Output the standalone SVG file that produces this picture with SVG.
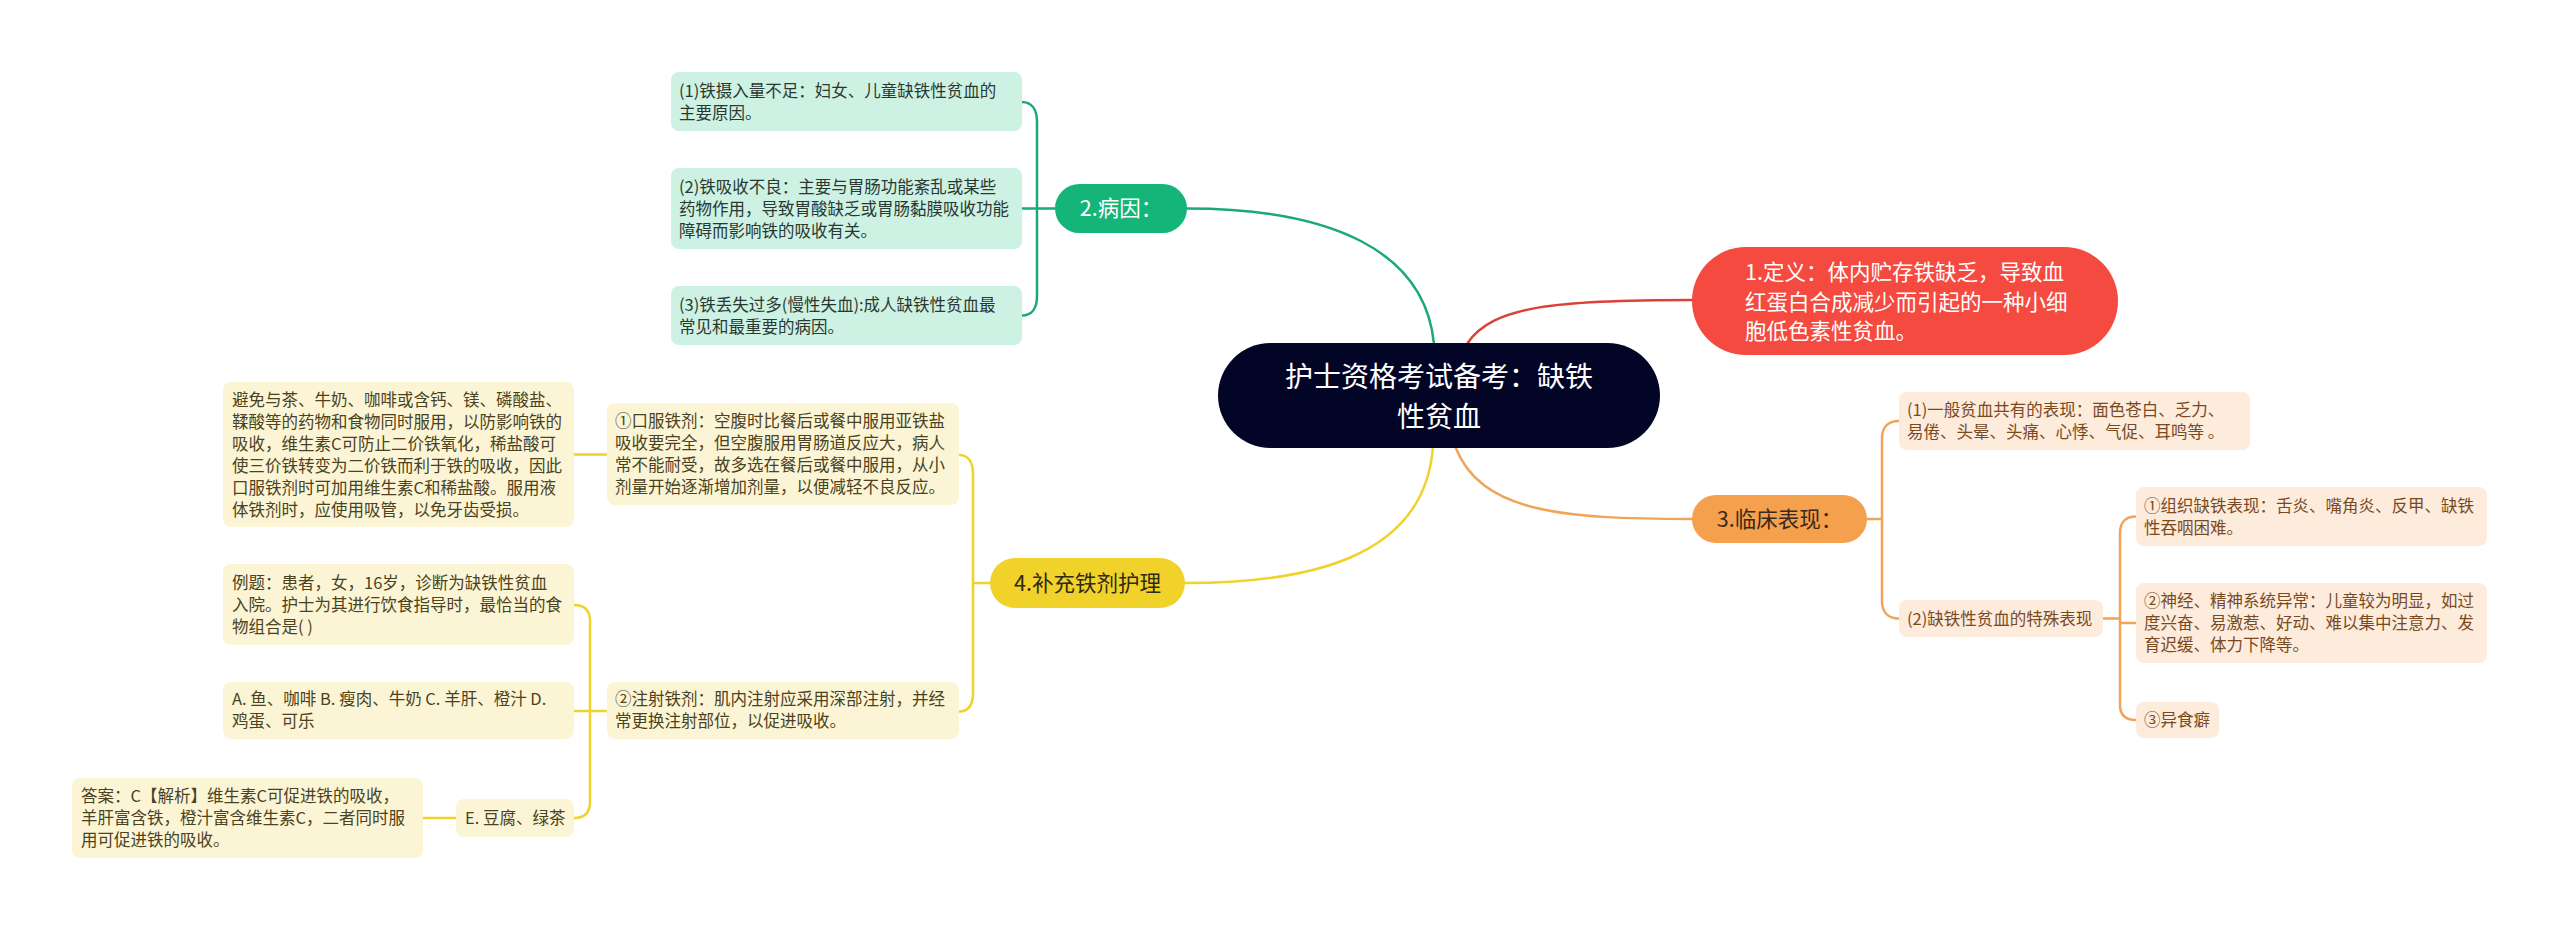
<svg xmlns="http://www.w3.org/2000/svg" width="2560" height="931" viewBox="0 0 2560 931">
<style>
text{font-family:"Noto Sans CJK SC","Noto Sans",sans-serif;}
.t{font-size:16.5px;}
.gt{fill:#2b3832;}
.yt{fill:#4a4220;}
.ot{fill:#7a4a1f;}
.gb{fill:#cdf1e2;}
.yb{fill:#fcf5d5;}
.ob{fill:#fdebdc;}
.gl{stroke:#1aaa73;fill:none;stroke-width:2.5;}
.rl{stroke:#dc4137;fill:none;stroke-width:2.5;}
.ol{stroke:#efa458;fill:none;stroke-width:2.5;}
.yl{stroke:#efd22b;fill:none;stroke-width:2.5;}
.n2{font-size:21.5px;}
</style>
<rect width="2560" height="931" fill="#ffffff"/>
<g id="connectors">
<path class="gl" d="M1187,208.5 C1330,208.5 1425,250 1434,344"/>
<path class="rl" d="M1467,344 C1492,305 1560,300 1693,300"/>
<path class="ol" d="M1455,446 C1480,512 1560,519 1693,519"/>
<path class="yl" d="M1433,446 C1425,562 1300,583 1185,583"/>
<path class="gl" d="M1055,208.5 L1022,208.5 M1037,208.5 L1037,122 C1037,110 1032,102 1022,102 M1037,208.5 L1037,296 C1037,308 1032,315.5 1022,315.5"/>
<path class="ol" d="M1867,519 L1882,519 M1882,519 L1882,438 C1882,427 1888,421 1899,421 M1882,519 L1882,601 C1882,612 1888,618.5 1899,618.5"/>
<path class="ol" d="M2103,618.5 L2120,618.5 M2120,623 L2136,623 M2120,623 L2120,533 C2120,522 2126,516.5 2136,516.5 M2120,618 L2120,705 C2120,715 2126,720 2136,720"/>
<path class="yl" d="M990,583 L973,583 M973,583 L973,474 C973,462 968,455 959,455 M973,583 L973,693 C973,705 968,711.5 959,711.5"/>
<path class="yl" d="M607,454.5 L574,454.5"/>
<path class="yl" d="M607,711 L574,711 M590,711 L590,621 C590,611 585,605 574,605 M590,711 L590,802 C590,812 585,818 574,818"/>
<path class="yl" d="M456,818 L423,818"/>
</g>
<g id="root">
<rect x="1218" y="343" width="442" height="105" rx="52.5" fill="#030526"/>
<text x="1439" y="387" font-size="28" fill="#ffffff" text-anchor="middle">护士资格考试备考：缺铁</text>
<text x="1439" y="427" font-size="28" fill="#ffffff" text-anchor="middle">性贫血</text>
</g>
<g id="n1">
<rect x="1692" y="247" width="426" height="108" rx="54" fill="#f54a40"/>
<text class="n2" fill="#ffffff"><tspan x="1745" y="280">1.定义：体内贮存铁缺乏，导致血</tspan><tspan x="1745" y="309.5">红蛋白合成减少而引起的一种小细</tspan><tspan x="1745" y="339">胞低色素性贫血。</tspan></text>
</g>
<g id="n2">
<rect x="1055" y="184" width="132" height="49" rx="24.5" fill="#15b478"/>
<text class="n2" x="1121" y="216" fill="#ffffff" text-anchor="middle">2.病因：</text>
</g>
<g id="n2a">
<rect class="gb" x="671" y="72" width="351" height="59" rx="8"/>
<text class="t gt"><tspan x="679" y="97">(1)铁摄入量不足：妇女、儿童缺铁性贫血的</tspan><tspan x="679" y="119">主要原因。</tspan></text>
</g>
<g id="n2b">
<rect class="gb" x="671" y="168" width="351" height="81" rx="8"/>
<text class="t gt"><tspan x="679" y="193">(2)铁吸收不良：主要与胃肠功能紊乱或某些</tspan><tspan x="679" y="215">药物作用，导致胃酸缺乏或胃肠黏膜吸收功能</tspan><tspan x="679" y="237">障碍而影响铁的吸收有关。</tspan></text>
</g>
<g id="n2c">
<rect class="gb" x="671" y="286" width="351" height="59" rx="8"/>
<text class="t gt"><tspan x="679" y="310.5">(3)铁丢失过多(慢性失血):成人缺铁性贫血最</tspan><tspan x="679" y="332.5">常见和最重要的病因。</tspan></text>
</g>
<g id="n3">
<rect x="1692" y="495" width="175" height="48" rx="24" fill="#f5a04c"/>
<text class="n2" x="1779.5" y="527" fill="#3a2a1c" text-anchor="middle">3.临床表现：</text>
</g>
<g id="n3a">
<rect class="ob" x="1899" y="392" width="351" height="58" rx="8"/>
<text class="t ot"><tspan x="1907" y="416">(1)一般贫血共有的表现：面色苍白、乏力、</tspan><tspan x="1907" y="438">易倦、头晕、头痛、心悸、气促、耳鸣等 。</tspan></text>
</g>
<g id="n3b">
<rect class="ob" x="1899" y="600" width="204" height="37" rx="8"/>
<text class="t ot" x="1907" y="624.5">(2)缺铁性贫血的特殊表现</text>
</g>
<g id="n3b1">
<rect class="ob" x="2136" y="487" width="351" height="59" rx="8"/>
<text class="t ot"><tspan x="2144" y="511.5">①组织缺铁表现：舌炎、嘴角炎、反甲、缺铁</tspan><tspan x="2144" y="533.5">性吞咽困难。</tspan></text>
</g>
<g id="n3b2">
<rect class="ob" x="2136" y="583" width="351" height="80" rx="8"/>
<text class="t ot"><tspan x="2144" y="607">②神经、精神系统异常：儿童较为明显，如过</tspan><tspan x="2144" y="629">度兴奋、易激惹、好动、难以集中注意力、发</tspan><tspan x="2144" y="651">育迟缓、体力下降等。</tspan></text>
</g>
<g id="n3b3">
<rect class="ob" x="2136" y="702" width="83" height="36" rx="8"/>
<text class="t ot" x="2144" y="726">③异食癖</text>
</g>
<g id="n4">
<rect x="990" y="558" width="195" height="50" rx="25" fill="#f1d22a"/>
<text class="n2" x="1087.5" y="591" fill="#2e2a14" text-anchor="middle">4.补充铁剂护理</text>
</g>
<g id="n4a">
<rect class="yb" x="607" y="403" width="352" height="102" rx="8"/>
<text class="t yt"><tspan x="615" y="427">①口服铁剂：空腹时比餐后或餐中服用亚铁盐</tspan><tspan x="615" y="449">吸收要完全，但空腹服用胃肠道反应大，病人</tspan><tspan x="615" y="471">常不能耐受，故多选在餐后或餐中服用，从小</tspan><tspan x="615" y="493">剂量开始逐渐增加剂量，以便减轻不良反应。</tspan></text>
</g>
<g id="n4a1">
<rect class="yb" x="223" y="382" width="351" height="145" rx="8"/>
<text class="t yt"><tspan x="232" y="405.5">避免与茶、牛奶、咖啡或含钙、镁、磷酸盐、</tspan><tspan x="232" y="427.5">鞣酸等的药物和食物同时服用，以防影响铁的</tspan><tspan x="232" y="449.5">吸收，维生素C可防止二价铁氧化，稀盐酸可</tspan><tspan x="232" y="471.5">使三价铁转变为二价铁而利于铁的吸收，因此</tspan><tspan x="232" y="493.5">口服铁剂时可加用维生素C和稀盐酸。服用液</tspan><tspan x="232" y="515.5">体铁剂时，应使用吸管，以免牙齿受损。</tspan></text>
</g>
<g id="n4b">
<rect class="yb" x="607" y="682" width="352" height="57" rx="8"/>
<text class="t yt"><tspan x="615" y="705">②注射铁剂：肌内注射应采用深部注射，并经</tspan><tspan x="615" y="727">常更换注射部位，以促进吸收。</tspan></text>
</g>
<g id="n4b1">
<rect class="yb" x="223" y="564" width="351" height="81" rx="8"/>
<text class="t yt"><tspan x="232" y="588.5">例题：患者，女，16岁，诊断为缺铁性贫血</tspan><tspan x="232" y="610.5">入院。护士为其进行饮食指导时，最恰当的食</tspan><tspan x="232" y="632.5">物组合是( )</tspan></text>
</g>
<g id="n4b2">
<rect class="yb" x="223" y="682" width="351" height="57" rx="8"/>
<text class="t yt"><tspan x="232" y="705">A. 鱼、咖啡 B. 瘦肉、牛奶 C. 羊肝、橙汁 D.</tspan><tspan x="232" y="727">鸡蛋、可乐</tspan></text>
</g>
<g id="n4b3">
<rect class="yb" x="456" y="799" width="118" height="38" rx="8"/>
<text class="t yt" x="465" y="824">E. 豆腐、绿茶</text>
</g>
<g id="n4b3a">
<rect class="yb" x="72" y="778" width="351" height="80" rx="8"/>
<text class="t yt"><tspan x="81" y="802">答案：C【解析】维生素C可促进铁的吸收，</tspan><tspan x="81" y="824">羊肝富含铁，橙汁富含维生素C，二者同时服</tspan><tspan x="81" y="846">用可促进铁的吸收。</tspan></text>
</g>
</svg>
